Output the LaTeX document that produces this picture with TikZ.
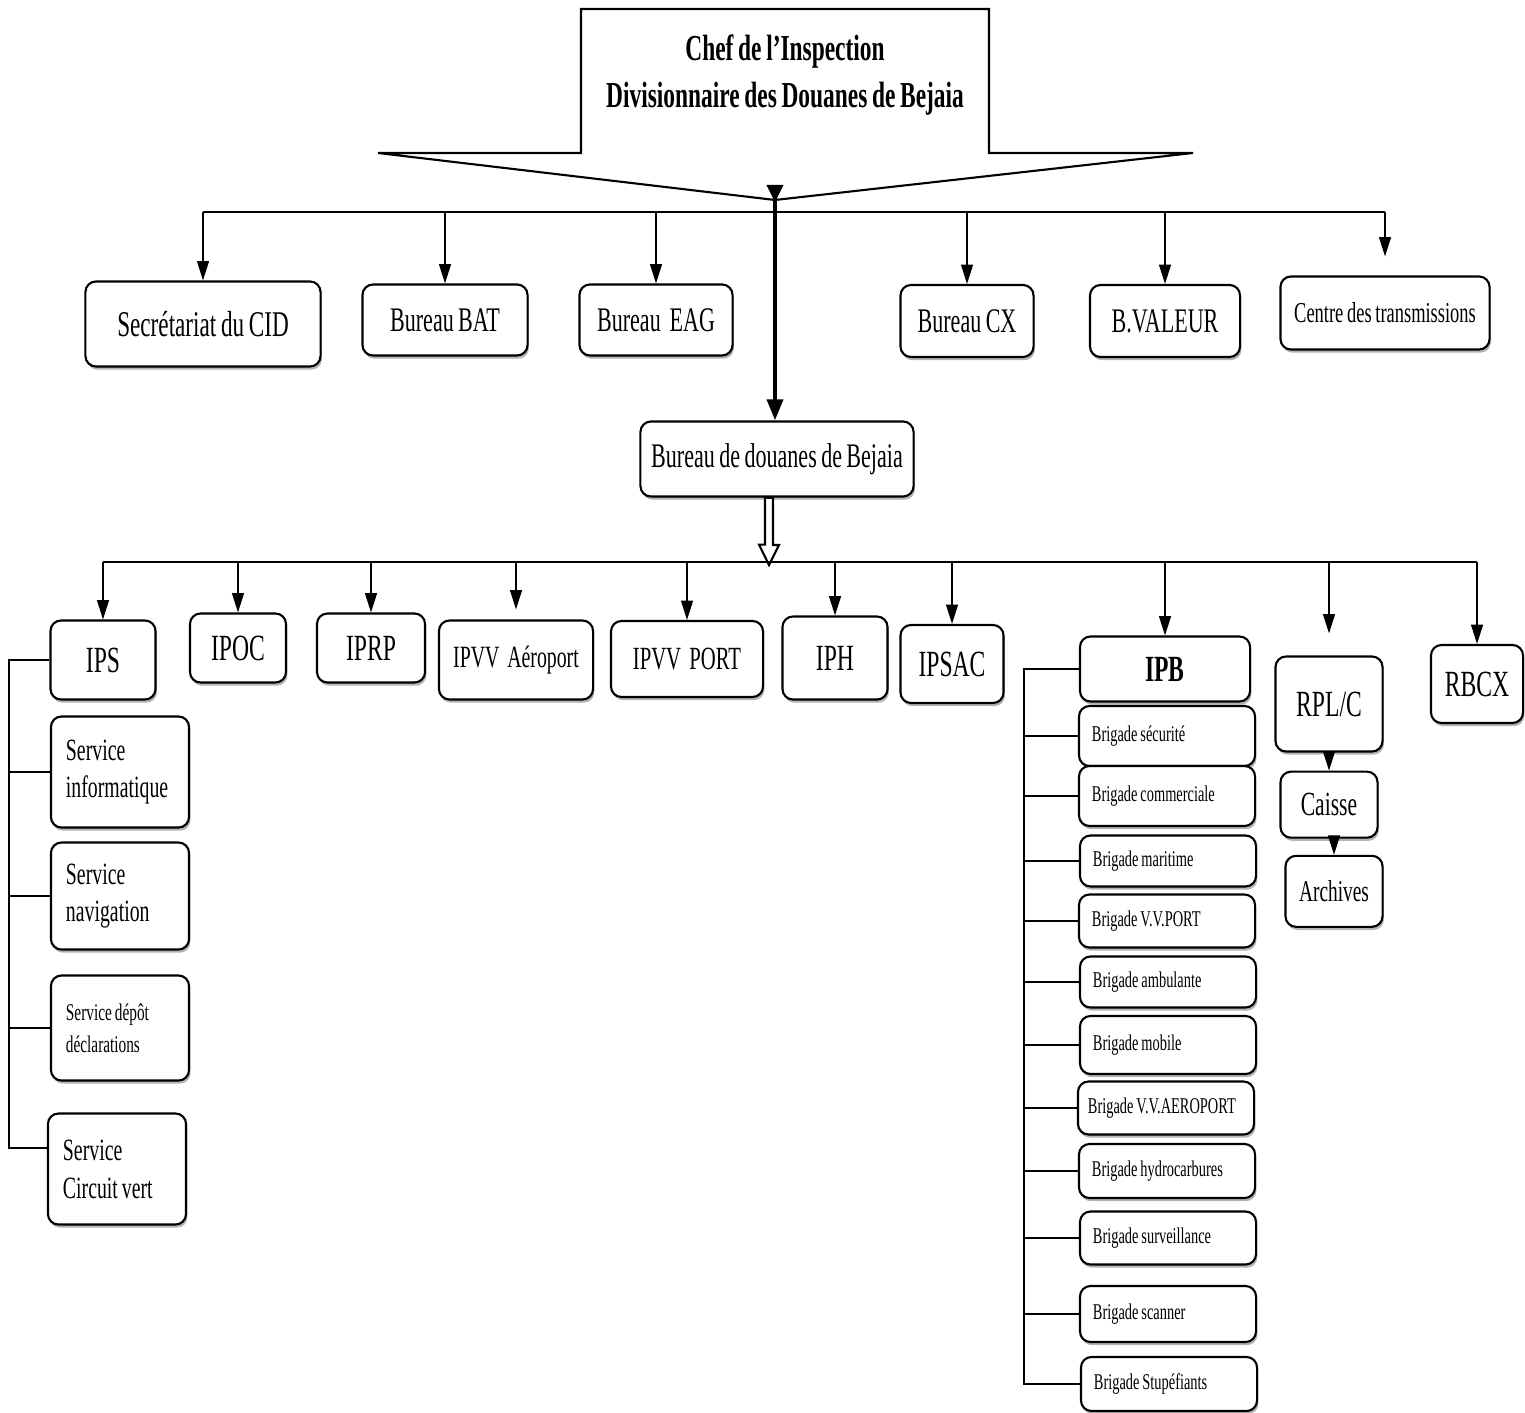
\documentclass[tikz,border=0pt]{standalone}
\usepackage{fontspec}
\setmainfont{Liberation Serif}[FakeStretch=0.64, WordSpace=0.8]
\usepackage{tikz}
\usetikzlibrary{arrows.meta, positioning, shadows}

\tikzset{
  unit/.style={draw, semithick, rounded corners=3pt, fill=white,
    drop shadow={shadow xshift=0.4pt, shadow yshift=-0.9pt, opacity=0.6},
    inner sep=0pt, align=center},
  bur/.style={unit, font=\fontsize{9.8}{11}\selectfont},
  insp/.style={unit, font=\fontsize{10.5}{12}\selectfont},
  svc/.style={unit, align=flush left, inner xsep=0.15cm, text width=1.08cm,
    font=\fontsize{8.8}{10.6}\selectfont},
  brig/.style={unit, align=flush left, inner xsep=0.13cm, text width=1.50cm,
    font=\fontsize{6.4}{7}\selectfont},
  arr/.style={thin, -{Triangle[length=5.5pt,width=3.4pt]}},
}

\begin{document}
\begin{tikzpicture}[x=0.01cm, y=-0.01cm]
\useasboundingbox (0,0) rectangle (1525,1413);

% chef de l'inspection
\coordinate (apex) at (775,200);
\draw[semithick, fill=white] (378,153) -- (581,153) -- (581,9) -- (989,9) -- (989,153)
  -- (1193,153) -- (apex) -- cycle;
\node[font=\bfseries\fontsize{10.4}{13.4}\selectfont, align=center] (chef) at (785,75)
  {Chef de l’Inspection\\Divisionnaire des Douanes de Bejaia};

% bureaux
\node[bur, minimum width=2.35cm, minimum height=0.85cm, font=\fontsize{10.3}{12}\selectfont] (sec) at (203,324) {Secrétariat du CID};
\node[bur, minimum width=1.65cm, minimum height=0.71cm] (bat) at (445,320) {Bureau BAT};
\node[bur, minimum width=1.53cm, minimum height=0.71cm] (eag) at (656,320) {Bureau\ \ EAG};
\node[bur, minimum width=1.33cm, minimum height=0.72cm] (bcx) at (967,321) {Bureau CX};
\node[bur, minimum width=1.50cm, minimum height=0.72cm] (bval) at (1165,321) {B.VALEUR};
\node[bur, minimum width=2.09cm, minimum height=0.73cm, font=\fontsize{8.2}{10}\selectfont] (ctr) at (1385,313) {Centre des transmissions};

\node[bur, minimum width=2.73cm, minimum height=0.75cm] (bdb) at (777,459) {Bureau de douanes de Bejaia};

\coordinate (bus1) at (0,212);
\draw[thick] (sec.north |- bus1) -- (ctr.north |- bus1);
\foreach \b in {sec, bat, eag, bcx, bval}
  \draw[arr] (\b.north |- bus1) -- (\b.north);
\draw[arr, shorten >=0.19cm] (ctr.north |- bus1) -- (ctr.north);

\coordinate (top) at (775,185);
\draw[line width=1.2pt, {Triangle[reversed, length=5pt, width=4.5pt]}-{Triangle[length=6pt, width=4.5pt]}]
  (top) -- (top |- bdb.north);

% inspections
\node[insp, minimum width=1.05cm, minimum height=0.79cm] (ips) at (103,660) {IPS};
\node[insp, minimum width=0.96cm, minimum height=0.69cm] (ipoc) at (238,648) {IPOC};
\node[insp, minimum width=1.08cm, minimum height=0.69cm] (iprp) at (371,648) {IPRP};
\node[insp, minimum width=1.54cm, minimum height=0.79cm, font=\fontsize{8.8}{10}\selectfont] (ipvva) at (516,660) {IPVV\ \ Aéroport};
\node[insp, minimum width=1.52cm, minimum height=0.76cm, font=\fontsize{9.2}{10}\selectfont] (ipvvp) at (687,659) {IPVV\ \ PORT};
\node[insp, minimum width=1.05cm, minimum height=0.83cm] (iph) at (835,658) {IPH};
\node[insp, minimum width=1.03cm, minimum height=0.78cm] (ipsac) at (952,664) {IPSAC};
\node[insp, minimum width=1.70cm, minimum height=0.65cm, font=\bfseries\fontsize{10.5}{12}\selectfont] (ipb) at (1165,669) {IPB};
\node[insp, minimum width=1.07cm, minimum height=0.95cm] (rplc) at (1329,704) {RPL/C};
\node[insp, minimum width=0.92cm, minimum height=0.78cm] (rbcx) at (1477,684) {RBCX};
\node[insp, minimum width=0.97cm, minimum height=0.66cm, font=\fontsize{9.6}{11}\selectfont, below=0.18cm of rplc] (caisse) {Caisse};
\node[insp, minimum width=0.97cm, minimum height=0.71cm, font=\fontsize{8.6}{10}\selectfont, below=0.16cm of caisse, xshift=0.05cm] (arch) {Archives};

\coordinate (hub2) at (769,565);
\draw[semithick, fill=white] (bdb.south -| hub2) ++(-4,0) -- ++(0,47) -- ++(-6,0) -- (hub2)
  -- ++(10,-20) -- ++(-6,0) -- ++(0,-47) -- cycle;

\coordinate (bus2) at (0,562);
\draw[semithick] (ips.north |- bus2) -- (rbcx.north |- bus2);
\foreach \i in {ips, ipoc, iprp, ipvvp, iph, ipsac, ipb, rbcx}
  \draw[arr] (\i.north |- bus2) -- (\i.north);
\draw[arr, shorten >=0.1cm] (ipvva.north |- bus2) -- (ipvva.north);
\draw[arr, shorten >=0.22cm] (rplc.north |- bus2) -- (rplc.north);
\draw[arr] (rplc.south) -- (caisse.north);
\draw[arr] (caisse.south -| arch.north) -- (arch.north);

% services IPS
\node[svc, minimum height=1.11cm] (svinf) at (120,772) {Service\\informatique};
\node[svc, minimum height=1.07cm] (svnav) at (120,896) {Service\\navigation};
\node[svc, minimum height=1.05cm, font=\fontsize{6.8}{9.1}\selectfont] (svdep) at (120,1028) {Service dépôt\\déclarations};
\node[svc, minimum height=1.11cm, font=\fontsize{8.8}{10.8}\selectfont] (svcv) at (117,1169) {Service\\Circuit vert};

\coordinate (rail1) at (9,0);
\coordinate (cv) at ([yshift=0.21cm]svcv.west);
\draw[semithick] (ips.west) -- (ips.west -| rail1) -- (rail1 |- cv) -- (cv);
\foreach \s in {svinf, svnav, svdep}
  \draw[semithick] (\s.west) -- (\s.west -| rail1);

% brigades IPB
\node[brig, minimum height=0.60cm] (b1) at (1167,736) {Brigade sécurité};
\node[brig, minimum height=0.60cm] (b2) at (1167,796) {Brigade commerciale};
\node[brig, minimum height=0.51cm] (b3) at (1168,861) {Brigade maritime};
\node[brig, minimum height=0.53cm] (b4) at (1167,921) {Brigade V.V.PORT};
\node[brig, minimum height=0.51cm] (b5) at (1168,982) {Brigade ambulante};
\node[brig, minimum height=0.58cm] (b6) at (1168,1045) {Brigade mobile};
\node[brig, minimum height=0.53cm, inner xsep=0.1cm, text width=1.56cm] (b7) at (1166,1108) {Brigade V.V.AEROPORT};
\node[brig, minimum height=0.54cm] (b8) at (1167,1171) {Brigade hydrocarbures};
\node[brig, minimum height=0.53cm] (b9) at (1168,1238) {Brigade surveillance};
\node[brig, minimum height=0.56cm] (b10) at (1168,1314) {Brigade scanner};
\node[brig, minimum height=0.54cm] (b11) at (1169,1384) {Brigade Stupéfiants};

\coordinate (rail2) at (1024,0);
\draw[semithick] (ipb.west) -- (ipb.west -| rail2) -- (rail2 |- b11.west) -- (b11.west);
\foreach \s in {b1, b2, b3, b4, b5, b6, b7, b8, b9, b10}
  \draw[semithick] (\s.west) -- (\s.west -| rail2);
\end{tikzpicture}
\end{document}
